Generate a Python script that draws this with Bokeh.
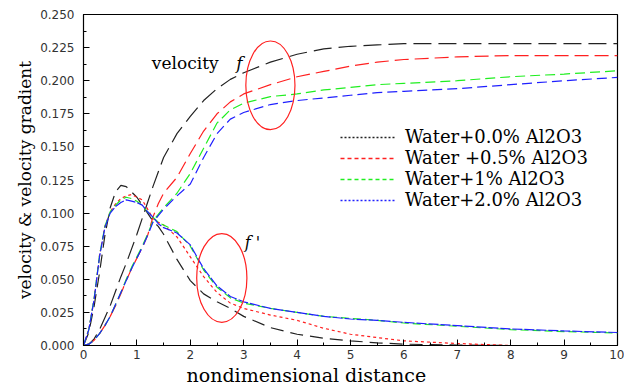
from bokeh.plotting import figure
from bokeh.models import Range1d, SingleIntervalTicker, NumeralTickFormatter, Legend, LegendItem, ColumnDataSource, Title
from bokeh.core.properties import value
from bokeh.embed import file_html
from bokeh.resources import INLINE

# nondimensional distance grid
eta = [0, 0.1, 0.2, 0.3, 0.4, 0.5, 0.6, 0.7, 0.8, 0.9, 1.0, 1.1, 1.2, 1.3, 1.4, 1.5,
       1.75, 2.0, 2.25, 2.5, 2.75, 3.0, 3.5, 4.0, 4.5, 5.0, 5.5, 6.0, 7.0, 8.0, 9.0, 10.0]

# velocity f
f_w00 = [0, 0.001, 0.005, 0.012, 0.021, 0.030, 0.041, 0.052, 0.062, 0.073, 0.084, 0.096, 0.108, 0.120, 0.131, 0.142,
         0.160, 0.173, 0.185, 0.194, 0.201, 0.206, 0.214, 0.220, 0.224, 0.226, 0.227, 0.228, 0.228, 0.228, 0.228, 0.228]
f_w05 = [0, 0.001, 0.004, 0.009, 0.015, 0.022, 0.030, 0.039, 0.049, 0.058, 0.066, 0.074, 0.083, 0.097, 0.107, 0.115,
         0.127, 0.145, 0.162, 0.175, 0.184, 0.190, 0.197, 0.203, 0.207, 0.211, 0.214, 0.216, 0.218, 0.219, 0.219, 0.219]
f_w10 = [0, 0.001, 0.004, 0.009, 0.015, 0.022, 0.031, 0.040, 0.050, 0.059, 0.067, 0.075, 0.084, 0.094, 0.099, 0.104,
         0.115, 0.130, 0.149, 0.168, 0.178, 0.183, 0.188, 0.190, 0.193, 0.195, 0.197, 0.198, 0.200, 0.203, 0.205, 0.2075]
f_w20 = [0, 0.001, 0.004, 0.009, 0.015, 0.022, 0.031, 0.040, 0.049, 0.058, 0.066, 0.074, 0.083, 0.093, 0.098, 0.103,
         0.113, 0.122, 0.142, 0.160, 0.171, 0.176, 0.182, 0.185, 0.187, 0.189, 0.191, 0.192, 0.194, 0.197, 0.200, 0.2025]

# velocity gradient f'
fp_w00 = [0, 0.010, 0.030, 0.055, 0.083, 0.104, 0.116, 0.121, 0.120, 0.116, 0.112, 0.106, 0.100, 0.094, 0.090, 0.084,
          0.065, 0.049, 0.039, 0.033, 0.028, 0.022, 0.0135, 0.0085, 0.0055, 0.0035, 0.002, 0.001, 0.0003, 0, 0, 0]
fp_w05 = [0, 0.012, 0.035, 0.068, 0.090, 0.101, 0.107, 0.111, 0.113, 0.114, 0.112, 0.110, 0.103, 0.096, 0.093, 0.091,
          0.082, 0.067, 0.052, 0.040, 0.032, 0.028, 0.023, 0.019, 0.013, 0.0085, 0.006, 0.0035, 0.0015, 0, 0, 0]
fp_w10 = [0, 0.012, 0.036, 0.068, 0.090, 0.101, 0.106, 0.110, 0.112, 0.111, 0.109, 0.106, 0.101, 0.097, 0.093, 0.091,
          0.086, 0.075, 0.057, 0.044, 0.036, 0.032, 0.028, 0.025, 0.022, 0.0205, 0.019, 0.017, 0.0145, 0.012, 0.0105, 0.0095]
fp_w20 = [0, 0.012, 0.035, 0.067, 0.089, 0.100, 0.105, 0.108, 0.110, 0.109, 0.108, 0.106, 0.101, 0.097, 0.092, 0.089,
          0.085, 0.076, 0.058, 0.045, 0.037, 0.033, 0.028, 0.025, 0.022, 0.020, 0.019, 0.0175, 0.015, 0.0125, 0.011, 0.0098]

labels = ["Water+0.0% Al2O3", "Water +0.5% Al2O3", "Water+1% Al2O3", "Water+2.0% Al2O3"]
colors = ["#222222", "#ff2020", "#20ee20", "#2020ff"]

p = figure(width=624, height=385, output_backend="svg", toolbar_location=None,
           x_range=Range1d(0, 10), y_range=Range1d(0, 0.25),
           min_border_left=83, min_border_right=7, min_border_top=14, min_border_bottom=39)
p.grid.visible = False
p.outline_line_color = "black"
p.outline_line_width = 1.2
p.background_fill_color = "white"
p.border_fill_color = "white"

p.xaxis.ticker = SingleIntervalTicker(interval=1, num_minor_ticks=2)
p.yaxis.ticker = SingleIntervalTicker(interval=0.025, num_minor_ticks=2)
p.yaxis.formatter = NumeralTickFormatter(format="0.000")
for ax in (p.xaxis, p.yaxis):
    ax.major_tick_in = 6
    ax.major_tick_out = 0
    ax.minor_tick_in = 3
    ax.minor_tick_out = 0
    ax.axis_line_color = "black"
    ax.major_tick_line_color = "black"
    ax.minor_tick_line_color = "black"
    ax.major_label_text_font = "DejaVu Sans"
    ax.major_label_text_font_size = "12px"
    ax.major_label_text_color = "#333333"
    ax.axis_label_text_font = "DejaVu Serif"
    ax.axis_label_text_font_style = "normal"
    ax.axis_label_text_font_size = "17px"
    ax.axis_label_text_color = "black"
p.xaxis.major_label_standoff = 4
p.yaxis.major_label_standoff = 9
p.yaxis.axis_label = "velocity & velocity gradient"
p.yaxis.axis_label_standoff = 2

# x axis title, placed left of centre as in the original
xt = Title(text="nondimensional distance", align="left", offset=103, standoff=0,
           text_font="DejaVu Serif", text_font_size="19px", text_font_style="normal",
           text_color="black")
p.add_layout(xt, "below")

src = ColumnDataSource(dict(x=eta, f0=f_w00, f1=f_w05, f2=f_w10, f3=f_w20,
                            g0=fp_w00, g1=fp_w05, g2=fp_w10, g3=fp_w20))

f_dash = ["18 7", "14 6", "10 5", "10 5"]
g_dash = ["13 7", "3 3", "8 4", "10 2"]
for i in range(4):
    p.line("x", "f%d" % i, source=src, line_color=colors[i], line_width=1.2, line_dash=f_dash[i])
    p.line("x", "g%d" % i, source=src, line_color=colors[i], line_width=1.2, line_dash=g_dash[i])

# legend sample renderers (styles of the original legend), not visible in the plot area
leg_dash = ["2 2", "4 3", "4 3", "2 2"]
nan = float("nan")
items = []
for i in range(4):
    r = p.line(x=[nan, nan], y=[nan, nan], line_color=colors[i], line_width=1.4, line_dash=leg_dash[i])
    items.append(LegendItem(label=labels[i], renderers=[r]))
legend = Legend(items=items, location=(257, 135), border_line_color=None,
                background_fill_alpha=0, padding=0, margin=0, spacing=0,
                glyph_width=55, glyph_height=20, label_height=20, label_standoff=10,
                label_text_font="DejaVu Serif", label_text_font_size="18px",
                label_text_color="black")
p.add_layout(legend, "center")

# red ellipses
p.ellipse(x=[3.5], y=[0.1965], width=0.92, height=0.067, fill_color=None,
          line_color="#ff2020", line_width=1.2)
p.ellipse(x=[2.59], y=[0.051], width=0.94, height=0.067, fill_color=None,
          line_color="#ff2020", line_width=1.2)

# annotations
p.text(x=[1.28], y=[0.213], text=["velocity"], text_font=value("DejaVu Serif"),
       text_font_size="17px", text_baseline="alphabetic", text_color="black")
p.text(x=[2.86], y=[0.213], text=["f"], text_font=value("DejaVu Serif"),
       text_font_style="italic", text_font_size="17px", text_baseline="alphabetic", text_color="black")
p.text(x=[3.02], y=[0.078], text=["f '"], text_font=value("DejaVu Serif"),
       text_font_style="italic", text_font_size="16px", text_baseline="middle", text_color="black")

open("out.html", "w").write(file_html(p, INLINE))
